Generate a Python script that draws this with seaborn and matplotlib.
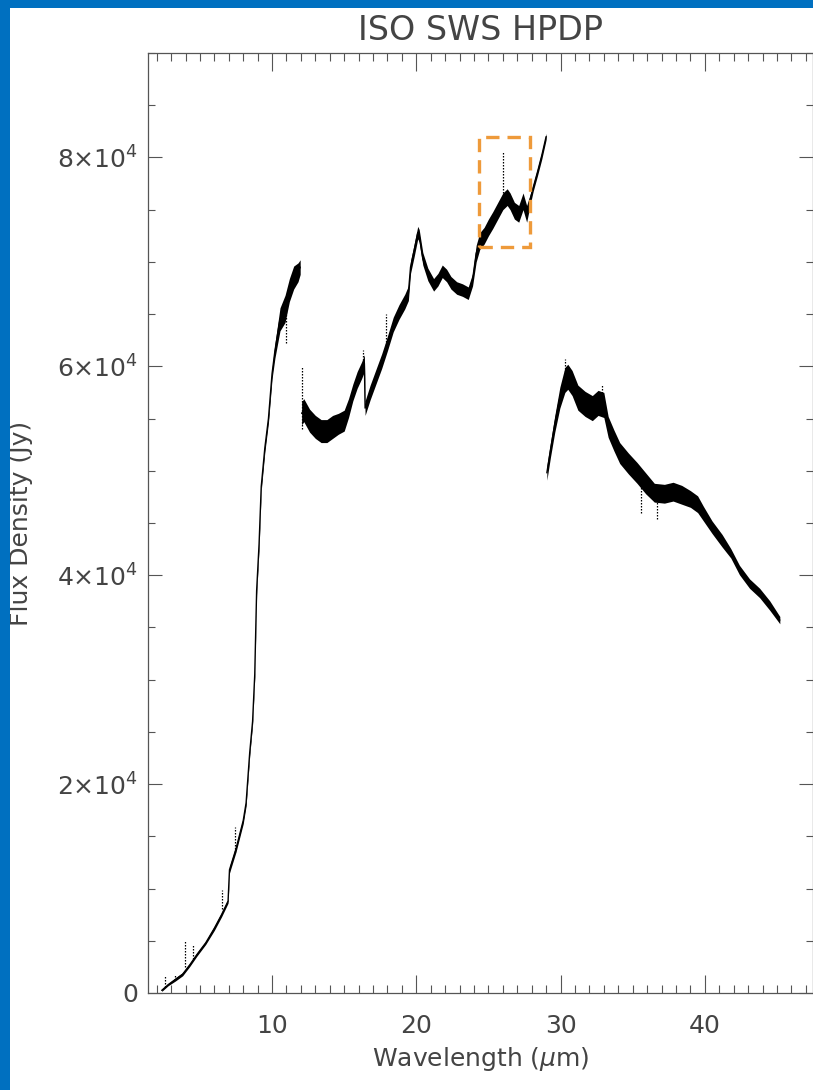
import numpy as np
import pandas as pd
import matplotlib
matplotlib.use("Agg")
import matplotlib.pyplot as plt
import seaborn as sns
from matplotlib.patches import Rectangle
from matplotlib.ticker import MultipleLocator, FixedLocator, FixedFormatter

# ---------------- data ----------------
WL1 = [2.35, 2.8, 3.3, 3.8, 4.3, 4.8, 5.4, 6.0, 6.5, 6.95, 7.05, 7.5, 8.0, 8.2,
       8.45, 8.65, 8.8, 8.93, 9.1, 9.25, 9.5, 9.75, 10.0, 10.2, 10.55, 10.9,
       11.2, 11.5, 11.8, 11.95]
FLUX1 = [250, 800, 1300, 1800, 2700, 3700, 4800, 6200, 7500, 8800, 11800, 13800,
         16500, 18200, 23000, 26000, 30500, 38500, 43000, 48500, 52200, 55000,
         59300, 61500, 64500, 65500, 67300, 68500, 69000, 69500]
NOISE1 = [100, 100, 150, 150, 150, 150, 150, 200, 200, 200, 300, 300, 300, 300,
          300, 300, 300, 400, 400, 400, 400, 400, 500, 700, 1100, 1300, 1100,
          1100, 900, 700]

WL2 = [12.05, 12.2, 12.6, 13.0, 13.4, 13.8, 14.2, 14.6, 15.0, 15.3, 15.6, 15.9,
       16.2, 16.4, 16.45, 16.8, 17.2, 17.6, 18.0, 18.4, 18.8, 19.2, 19.45, 19.6,
       19.85, 20.1, 20.2, 20.45, 20.8, 21.2, 21.5, 21.8, 22.1, 22.4, 22.8, 23.2,
       23.6, 23.9, 24.15, 24.4, 24.7, 25.0, 25.3, 25.65, 26.0, 26.3, 26.5, 26.8,
       27.1, 27.4, 27.65, 27.9, 28.1, 28.4, 28.7, 29.0]
FLUX2 = [55500, 55800, 54800, 54200, 53800, 53800, 54200, 54500, 54800, 56000,
         57500, 58700, 59600, 60300, 56000, 57500, 59000, 60500, 62200, 64000,
         65200, 66200, 67000, 69500, 71100, 72800, 72500, 70300, 68800, 67800,
         68300, 69100, 68700, 68000, 67500, 67300, 67000, 68300, 70800, 72000,
         72500, 73300, 74000, 74900, 75800, 76200, 75800, 74900, 74600, 75800,
         74600, 76000, 77100, 78600, 80200, 82000]
NOISE2 = [1100, 1100, 1100, 1100, 1100, 1100, 1100, 1000, 1000, 900, 800, 800,
          800, 800, 700, 700, 700, 700, 700, 700, 700, 700, 700, 600, 600, 600,
          600, 600, 600, 600, 600, 600, 600, 600, 600, 600, 600, 600, 800, 800,
          800, 800, 800, 800, 800, 800, 800, 800, 800, 800, 800, 500, 350, 350,
          350, 300]

WL3 = [29.05, 29.3, 29.6, 29.95, 30.3, 30.5, 30.8, 31.2, 31.7, 32.2, 32.6, 33.0,
       33.3, 33.7, 34.1, 34.7, 35.3, 35.9, 36.5, 37.2, 37.8, 38.4, 39.0, 39.5,
       39.9, 40.5, 41.2, 41.8, 42.4, 43.1, 43.8, 44.5, 45.2]
FLUX3 = [49800, 52000, 54500, 57000, 58700, 59000, 58400, 57000, 56400, 56000,
         56500, 56300, 54200, 52900, 51700, 50700, 49800, 48800, 47900, 47800,
         48000, 47700, 47300, 46800, 45900, 44600, 43300, 42100, 40500, 39200,
         38300, 37100, 35700]
NOISE3 = [700, 700, 800, 1000, 1200, 1200, 1200, 1200, 1200, 1200, 1200, 1200,
          1000, 1000, 1000, 1000, 1000, 1000, 900, 900, 900, 900, 800, 800,
          700, 600, 600, 450, 450, 450, 450, 450, 350]

SPIKE_X = [2.55, 3.25, 3.98, 4.5, 6.56, 7.42, 10.95, 12.1, 16.3, 17.9, 26.0,
           30.3, 32.9, 35.6, 36.7]
SPIKE_LO = [600, 1200, 2500, 3300, 8000, 13500, 62200, 54000, 60000, 62000,
            76000, 58000, 56000, 46000, 45400]
SPIKE_HI = [1700, 1800, 5100, 4600, 9900, 15900, 65500, 60000, 61600, 65000,
            80500, 60700, 58300, 49000, 47500]

BOX_X = [24.38, 27.87]
BOX_Y = [71400, 82000]

X_TICKS = [10, 20, 30, 40]
X_TICK_LABELS = ["10", "20", "30", "40"]
Y_TICKS = [0, 20000, 40000, 60000, 80000]
Y_TICK_LABELS = ["0", r"$2{\times}10^4$", r"$4{\times}10^4$", r"$6{\times}10^4$",
                 r"$8{\times}10^4$"]

TITLE = "ISO SWS HPDP"
XLABEL = r"Wavelength ($\mu$m)"
YLABEL = "Flux Density (Jy)"

# ---------------- style ----------------
sns.set_style("ticks")
plt.rcParams["font.family"] = ["DejaVu Sans"]
plt.rcParams["mathtext.fontset"] = "dejavusans"
TXT = "#444444"
AX = "#555555"

W, H = 813, 1090
fig = plt.figure(figsize=(W / 100, H / 100), dpi=100)
fig.patch.set_facecolor("white")
L, R, T, B = 148, 813, 53, 993
ax = fig.add_axes([L / W, 1 - B / H, (R - L) / W, (B - T) / H])
ax.set_facecolor("white")

segments = [(WL1, FLUX1, NOISE1), (WL2, FLUX2, NOISE2), (WL3, FLUX3, NOISE3)]
for wl, fl, nz in segments:
    wl = np.asarray(wl, float)
    fl = np.asarray(fl, float)
    nz = np.asarray(nz, float)
    ax.fill_between(wl, fl - nz, fl + nz, color="black", lw=0, zorder=2)
    df = pd.DataFrame({"wl": wl, "flux": fl})
    sns.lineplot(data=df, x="wl", y="flux", ax=ax, color="black", lw=1.0,
                 estimator=None, sort=False, zorder=3)

ax.vlines(SPIKE_X, SPIKE_LO, SPIKE_HI, colors="black", lw=0.9,
          linestyles=(0, (1.2, 1.2)), zorder=3)

ax.add_patch(Rectangle((BOX_X[0], BOX_Y[0]), BOX_X[1] - BOX_X[0],
                       BOX_Y[1] - BOX_Y[0], fill=False, edgecolor="#EE9A3A",
                       lw=2.4, linestyle=(0, (4, 2.4)), zorder=4))

ax.set_xlim(1.4, 47.5)
ax.set_ylim(0, 90000)

ax.xaxis.set_major_locator(FixedLocator(X_TICKS))
ax.xaxis.set_major_formatter(FixedFormatter(X_TICK_LABELS))
ax.xaxis.set_minor_locator(MultipleLocator(1))
ax.yaxis.set_major_locator(FixedLocator(Y_TICKS))
ax.yaxis.set_major_formatter(FixedFormatter(Y_TICK_LABELS))
ax.yaxis.set_minor_locator(MultipleLocator(5000))

ax.tick_params(which="both", direction="in", top=True, right=True,
               color=AX, width=0.8, labelcolor=TXT, labelsize=18)
ax.tick_params(axis="x", which="major", length=13, pad=15)
ax.tick_params(axis="x", which="minor", length=6)
ax.tick_params(axis="y", which="major", length=10, pad=7)
ax.tick_params(axis="y", which="minor", length=5)

for s in ax.spines.values():
    s.set_color(AX)
    s.set_linewidth(0.9)
    s.set_visible(True)

ax.set_title(TITLE, fontsize=24, color=TXT, pad=9)
ax.set_xlabel(XLABEL, fontsize=18, color=TXT)
ax.set_ylabel(YLABEL, fontsize=18, color=TXT)
ax.xaxis.set_label_coords(0.5008, -0.0553)
ax.xaxis.label.set_va("top")
ax.yaxis.set_label_coords(-0.173, 0.5)

# blue slide border (left and top)
fig.add_artist(Rectangle((0, 0), 10 / W, 1, transform=fig.transFigure,
                         facecolor="#0070C0", edgecolor="none", zorder=10))
fig.add_artist(Rectangle((0, 1 - 8 / H), 1, 8 / H, transform=fig.transFigure,
                         facecolor="#0070C0", edgecolor="none", zorder=10))

fig.savefig("out.png", dpi=100)
